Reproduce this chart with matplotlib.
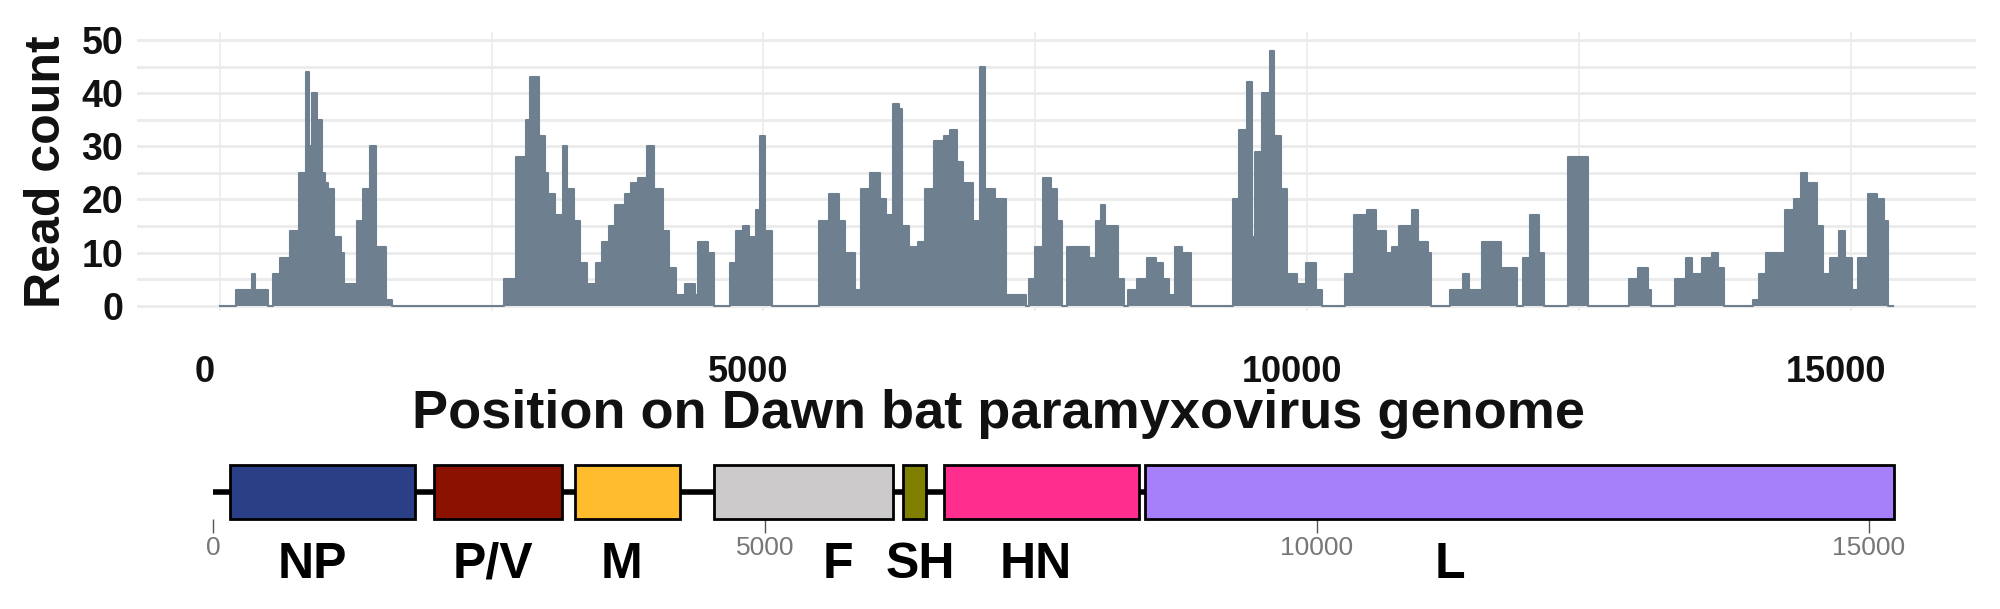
import matplotlib.pyplot as plt
import matplotlib.transforms as mtransforms
from matplotlib.patches import Rectangle
import numpy as np

plt.rcParams['font.family'] = ['Liberation Sans', 'DejaVu Sans']
FILL = '#6E7F8F'; GRID = '#EBEBEB'; DARK = '#111111'

# read coverage, breakpoints (genome position, read count)
cov_pos = [0, 147, 293, 323, 440, 487, 557, 645, 733, 792, 821, 851, 892, 939, 968,
           998, 1056, 1115, 1144, 1232, 1261, 1320, 1379, 1438, 1496, 1526, 1584,
           2599, 2611, 2728, 2816, 2857, 2934, 2992, 3022, 3080, 3156, 3198, 3256,
           3315, 3374, 3462, 3520, 3579, 3638, 3726, 3784, 3843, 3931, 3990, 4078,
           4136, 4195, 4283, 4371, 4400, 4488, 4547, 4635, 4694, 4752, 4811, 4870,
           4928, 4969, 5016, 5075, 5456, 5515, 5603, 5691, 5750, 5838, 5896, 5984,
           6072, 6131, 6190, 6248, 6278, 6336, 6424, 6483, 6571, 6659, 6718, 6776,
           6835, 6923, 6994, 7041, 7128, 7235, 7411, 7440, 7499, 7575, 7645, 7704,
           7745, 7792, 7880, 7997, 8056, 8103, 8144, 8203, 8261, 8320, 8349, 8437,
           8525, 8613, 8672, 8731, 8789, 8848, 8936, 9288, 9317, 9376, 9446, 9493,
           9523, 9581, 9658, 9699, 9757, 9816, 9904, 9992, 10080, 10139, 10315,
           10344, 10432, 10549, 10637, 10725, 10784, 10843, 10960, 11019, 11107,
           11136, 11283, 11312, 11429, 11488, 11606, 11694, 11782, 11870, 11928,
           11987, 12046, 12134, 12181, 12368, 12398, 12544, 12585, 12896, 12955,
           13043, 13131, 13160, 13336, 13383, 13483, 13542, 13630, 13718, 13776,
           13835, 14040, 14099, 14158, 14216, 14304, 14392, 14480, 14539, 14598,
           14686, 14744, 14803, 14891, 14950, 15008, 15067, 15155, 15243, 15302,
           15343, 15390]
cov_val = [0, 3, 6, 3, 0, 6, 9, 14, 25, 44, 30, 40, 35, 25, 23,
           22, 13, 10, 4, 4, 16, 22, 30, 11, 11, 1, 0,
           0, 5, 28, 35, 43, 32, 25, 21, 17, 30, 22, 16,
           8, 4, 8, 12, 15, 19, 21, 23, 24, 30, 22, 14,
           7, 2, 4, 2, 12, 10, 0, 0, 8, 14, 15, 13,
           18, 32, 14, 0, 0, 16, 21, 16, 10, 3, 22, 25,
           20, 17, 38, 37, 15, 11, 12, 22, 31, 32, 33, 27,
           23, 16, 45, 22, 20, 2, 0, 5, 11, 24, 22, 16,
           0, 11, 11, 9, 16, 19, 15, 15, 5, 0, 3, 5,
           9, 8, 5, 2, 11, 10, 0, 0, 20, 33, 42, 13,
           29, 40, 48, 32, 22, 6, 4, 8, 3, 0, 0,
           6, 17, 18, 14, 10, 11, 15, 18, 12, 10,
           0, 0, 3, 6, 3, 12, 12, 7, 7, 0,
           9, 17, 10, 0, 0, 28, 28, 0, 0, 5,
           7, 3, 0, 0, 5, 9, 6, 9, 10, 7,
           0, 0, 1, 6, 10, 10, 18, 20, 25, 23,
           15, 6, 9, 14, 9, 3, 9, 21, 20, 16,
           0, 0]

# genome map
genes = ['NP', 'P/V', 'M', 'F', 'SH', 'HN', 'L']
gene_start = [150, 2000, 3280, 4540, 6250, 6620, 8440]
gene_end = [1830, 3160, 4230, 6160, 6460, 8390, 15230]
gene_label_x = [900, 2540, 3700, 5660, 6410, 7450, 11200]
gene_colors = ['#2B3F87', '#8B1100', '#FFBD2E', '#CCCACA', '#7F7F00', '#FF2D8E', '#A67FFB']

fig = plt.figure(figsize=(20, 6.09), dpi=100, facecolor='white')

ax = fig.add_axes([137/2000, 1-311/609, 1839/2000, 279/609])
ax.fill_between(cov_pos, cov_val, step='post', color=FILL, lw=0)
ax.step(cov_pos, cov_val, where='post', color=FILL, lw=1.5)
ax.set_xlim(-760, 16150)
ax.set_ylim(-1, 51.5)
ax.set_xticks([0, 5000, 10000, 15000])
ax.set_xticks([2500, 7500, 12500], minor=True)
ax.set_yticks([0, 10, 20, 30, 40, 50])
ax.set_yticks([5, 15, 25, 35, 45], minor=True)
ax.grid(True, which='both', axis='y', color=GRID, lw=2)
ax.grid(True, which='both', axis='x', color=GRID, lw=1.2)
ax.set_axisbelow(True)
ax.tick_params(which='both', length=0)
ax.tick_params(axis='x', pad=32, labelsize=26)
ax.tick_params(axis='y', pad=10, labelsize=27)
shift = mtransforms.ScaledTranslation(-0.15, 0, fig.dpi_scale_trans)
for lab in ax.get_xticklabels():
    lab.set_transform(lab.get_transform() + shift)
for lab in ax.get_xticklabels() + ax.get_yticklabels():
    lab.set_fontweight('bold'); lab.set_color(DARK)
for sp in ax.spines.values(): sp.set_visible(False)
ax.set_ylabel('Read count', fontsize=36, fontweight='bold', color=DARK, labelpad=8)
fig.text(0.499, 1-414/609, 'Position on Dawn bat paramyxovirus genome',
         ha='center', va='center', fontsize=39, fontweight='bold', color=DARK)

gx = fig.add_axes([213/2000, 1-519/609, 1656/2000, 54/609])
gx.set_xlim(0, 15000)
gx.set_ylim(0, 1)
gx.plot([0, gene_start[-1]], [0.5, 0.5], color='black', lw=4, zorder=1,
        solid_capstyle='butt', clip_on=False)
for s, e, c, name, lx in zip(gene_start, gene_end, gene_colors, genes, gene_label_x):
    gx.add_patch(Rectangle((s, 0), e - s, 1, facecolor=c, edgecolor='black',
                           lw=2, zorder=2, clip_on=False))
    gx.text(lx, -0.85, name, ha='center', va='center', fontsize=36,
            fontweight='bold', color='black')
gx.set_xticks([0, 5000, 10000, 15000])
gx.set_yticks([])
gx.tick_params(axis='x', length=10, width=1, color='#555555', labelcolor='#777777',
               labelsize=19, pad=2)
for sp in gx.spines.values(): sp.set_visible(False)

plt.savefig('out.png', dpi=100, facecolor='white')
